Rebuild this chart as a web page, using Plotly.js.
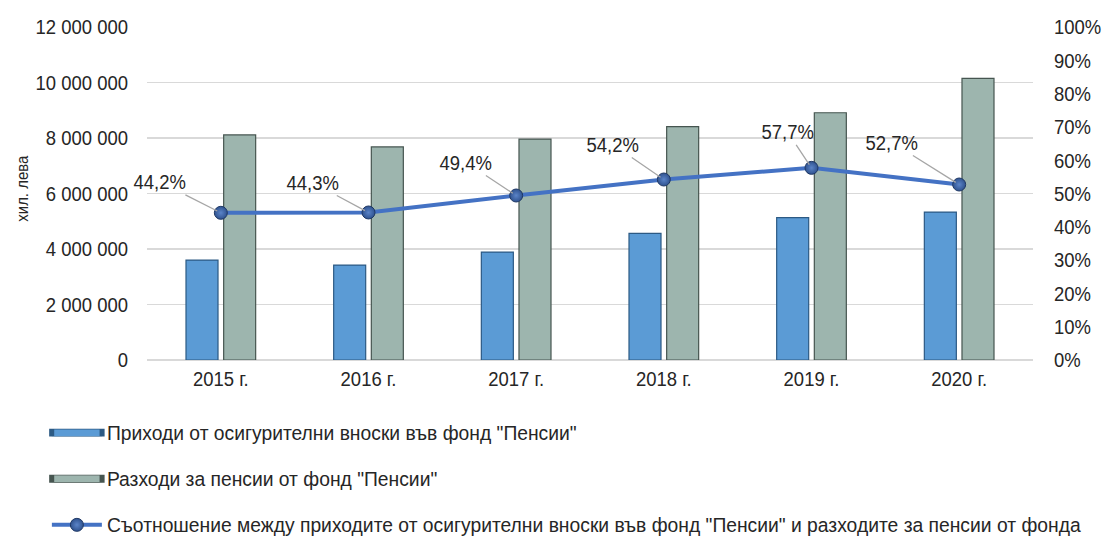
<!DOCTYPE html>
<html><head><meta charset="utf-8">
<script src="https://cdn.plot.ly/plotly-3.0.1.min.js"></script>
<style>html,body{margin:0;padding:0;background:#fff}#c{width:1104px;height:537px}</style>
</head><body><div id="c"></div>
<script>
const years = ["2015 г.", "2016 г.", "2017 г.", "2018 г.", "2019 г.", "2020 г."];
const revenue = [3600000, 3420000, 3890000, 4560000, 5130000, 5330000];
const expenses = [8110000, 7680000, 7960000, 8410000, 8910000, 10150000];
const ratio = [44.2, 44.3, 49.4, 54.2, 57.7, 52.7];
const labelOffsetX = [-61, -56, -50, -51, -24, -67];
const labelOffsetY = [-31, -30, -33, -35, -36, -42];
const yAxisTitle = 'хил. лева';
const names = [
  'Приходи от осигурителни вноски във фонд "Пенсии"',
  'Разходи за пенсии от фонд "Пенсии"',
  'Съотношение между приходите от осигурителни вноски във фонд "Пенсии" и разходите за пенсии от фонда'
];
const FONT = '"Liberation Sans Narrow", "Arial Narrow", "Liberation Sans", Arial, sans-serif';
const TXT = '#262626';

const traces = [
  {type:'bar', x:years, y:revenue, name:names[0], legendgroup:'a',
   marker:{color:'#5b9bd5', line:{color:'#2c5a84', width:1.2}}, yaxis:'y'},
  {type:'bar', x:years, y:expenses, name:names[1], legendgroup:'b',
   marker:{color:'#9db5ae', line:{color:'#465550', width:1.2}}, yaxis:'y'},
  {type:'scatter', mode:'lines+markers', x:years, y:ratio, name:names[2], legendgroup:'c',
   yaxis:'y2', line:{color:'#4472c4', width:4},
   marker:{symbol:'circle', size:13, color:'#2f528f', gradient:{type:'radial', color:'#5b84c8'},
           line:{color:'#1f3864', width:1}}}
];

const annotations = years.map((yr,i)=>({
  x: yr, y: ratio[i], xref:'x', yref:'y2',
  text: ratio[i].toFixed(1).replace('.', ',') + '%',
  showarrow:true, arrowhead:0, arrowwidth:1.3, arrowcolor:'#a6a6a6',
  ax: labelOffsetX[i], ay: labelOffsetY[i], standoff:4,
  font:{family:FONT, size:21, color:TXT}
}));
annotations.push({
  xref:'paper', yref:'paper', x:-0.141, y:0.516, xanchor:'center', yanchor:'middle',
  showarrow:false, textangle:-90,
  text:yAxisTitle, font:{family:FONT, size:17, color:TXT}
});

const layout = {
  width:1104, height:537,
  margin:{l:147, r:71, t:27, b:177, autoexpand:false},
  paper_bgcolor:'#fff', plot_bgcolor:'#fff',
  separators:', ',
  font:{family:FONT, size:21, color:TXT},
  barmode:'group', bargap:0.49, bargroupgap:0.15,
  showlegend:true,
  legend:{orientation:'v', x:-0.113, xanchor:'left', y:-0.161, yanchor:'top',
          font:{family:FONT, size:19.3, color:TXT}, tracegroupgap:18,
          itemwidth:50, traceorder:'grouped', bgcolor:'rgba(0,0,0,0)'},
  xaxis:{type:'category', range:[-0.5, years.length - 0.5], autorange:false,
         showgrid:false, zeroline:false, showline:false, ticks:'', automargin:false,
         ticklabelstandoff:4, tickfont:{family:FONT, size:21, color:TXT}},
  yaxis:{range:[0,12000000], autorange:false, dtick:2000000, tickformat:',d', showgrid:true, automargin:false,
         gridcolor:'#d9d9d9', gridwidth:1.5, zeroline:true, zerolinecolor:'#d9d9d9', zerolinewidth:1.5,
         showline:false, ticks:'', ticklabelstandoff:18,
         tickfont:{family:FONT, size:21, color:TXT}},
  yaxis2:{range:[0,100], autorange:false, dtick:10, ticksuffix:'%', overlaying:'y', side:'right', automargin:false,
          showgrid:false, zeroline:false, showline:false, ticks:'', ticklabelstandoff:20,
          tickfont:{family:FONT, size:21, color:TXT}},
  annotations: annotations
};

function post(gd){
  // emulate a condensed (narrow) typeface for axis and data labels
  gd.querySelectorAll('svg text').forEach(t=>{
    if (t.closest('.legend')) return;
    if (t.dataset.narrow) return;
    const bb = t.getBBox();
    if (bb.width <= 0) return;
    const anchor = t.getAttribute('text-anchor') || getComputedStyle(t).textAnchor || 'start';
    let px = bb.x;
    if (anchor === 'middle') px = bb.x + bb.width/2;
    else if (anchor === 'end') px = bb.x + bb.width;
    t.dataset.narrow = '1';
    const tr = t.getAttribute('transform') || '';
    t.setAttribute('transform', tr + ` translate(${px.toFixed(2)},0) scale(0.88,1) translate(${(-px).toFixed(2)},0)`);
  });
  // wide flat legend symbols for bars
  gd.querySelectorAll('.legend .legendpoints path').forEach(p=>{
    const d = p.getAttribute('d') || '';
    if (/^M6,6H-6V-6H6Z$/.test(d) && !p.dataset.wide) {
      p.dataset.wide = '1';
      p.setAttribute('transform', (p.getAttribute('transform')||'') + ' scale(4.2,0.6)');
    }
  });
}
Plotly.newPlot('c', traces, layout, {displayModeBar:false, staticPlot:true}).then(gd=>{
  post(gd);
  setTimeout(()=>post(gd), 50);
});
</script></body></html>
